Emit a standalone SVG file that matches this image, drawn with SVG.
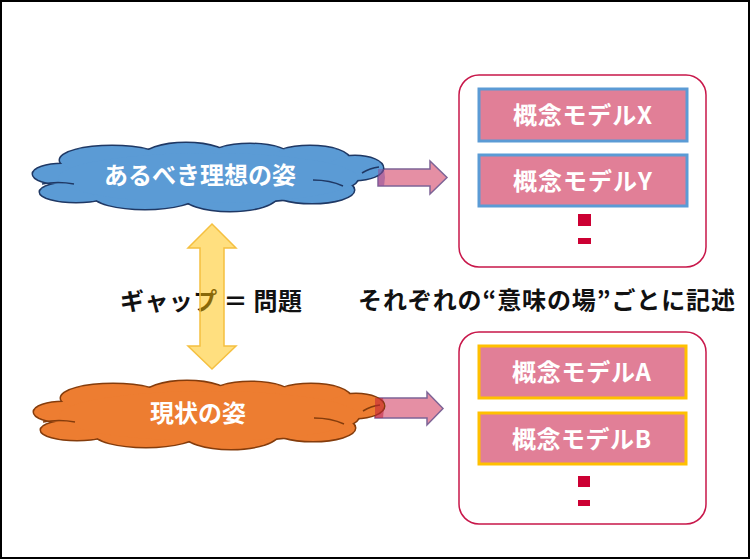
<svg xmlns="http://www.w3.org/2000/svg" xmlns:xlink="http://www.w3.org/1999/xlink" width="751" height="560" viewBox="0 0 751 560">
<style>
.t{font-family:"Noto Sans CJK JP","Noto Sans",sans-serif;font-weight:bold;}
.w{fill:#ffffff;}
.k{fill:#111111;}
.box{fill:#ffffff;stroke:#c8174a;stroke-width:1.5;}
.mb{fill:#e17f97;stroke:#5b9bd5;stroke-width:3;}
.mo{fill:#e17f97;stroke:#ffc000;stroke-width:3;}
.dot{fill:#cc0033;}
.parrow{fill:#e17f97;fill-opacity:0.88;stroke:#7e6496;stroke-width:1.5;}
</style>
<defs>
<g id="cloud">
<ellipse cx="62" cy="174" rx="29" ry="10"/>
<ellipse cx="76" cy="192" rx="36" ry="10"/>
<ellipse cx="112" cy="160" rx="52" ry="14"/>
<ellipse cx="186" cy="158" rx="44" ry="15"/>
<ellipse cx="250" cy="158" rx="42" ry="14"/>
<ellipse cx="310" cy="160" rx="40" ry="14"/>
<ellipse cx="355" cy="168" rx="28" ry="12"/>
<ellipse cx="312" cy="190" rx="42" ry="13"/>
<ellipse cx="230" cy="195" rx="48" ry="16"/>
<ellipse cx="145" cy="195" rx="52" ry="14"/>
<ellipse cx="208" cy="178" rx="150" ry="25"/>
</g>
<path id="cloudIn" fill="none" d="M42,184 Q58,181 74,184 M362,173 Q370,168 379,167 M313,180 Q330,180 343,186"/>
</defs>
<rect x="1" y="1" width="748" height="557" fill="#ffffff" stroke="#000000" stroke-width="2"/>

<g id="connectors">
<polygon class="parrow" points="378,169 430,169 430,161 447,177.5 430,194 430,186 378,186"/>
<polygon class="parrow" points="375,398 427,398 427,392 443,408.5 427,425 427,418 375,418"/>
</g>

<g id="ideal">
<use xlink:href="#cloud" fill="#5b9bd5" stroke="#1f3864" stroke-width="3"/>
<use xlink:href="#cloud" fill="#5b9bd5" stroke="none"/>
<use xlink:href="#cloudIn" stroke="#1f3864" stroke-width="1.5"/>
<text class="t w" x="200" y="184" font-size="24" text-anchor="middle">あるべき理想の姿</text>
</g>

<g id="current">
<use xlink:href="#cloud" transform="translate(1,238)" fill="#ed7d31" stroke="#843c0c" stroke-width="3"/>
<use xlink:href="#cloud" transform="translate(1,238)" fill="#ed7d31" stroke="none"/>
<use xlink:href="#cloudIn" transform="translate(1,238)" stroke="#843c0c" stroke-width="1.5"/>
<text class="t w" x="198" y="422" font-size="24" text-anchor="middle">現状の姿</text>
</g>

<g id="arrow-overlap">
<polygon fill="#8a4f9a" fill-opacity="0.55" points="378,169 384,169 385,177.5 384,186 378,186"/>
<polygon fill="#c0203a" fill-opacity="0.55" points="375,398 383,398 384,408 383,418 375,418"/>
</g>

<g id="gap">
<text class="t k" x="120" y="310" font-size="24" textLength="182" lengthAdjust="spacing">ギャップ ＝ 問題</text>
<polygon fill="#ffc000" fill-opacity="0.5" stroke="#f5c040" stroke-width="1.5" points="212,224 236,248 224,248 224,346 236,346 212,369 188,346 200,346 200,248 188,248"/>
</g>

<g id="note">
<text class="t k" x="358" y="309" font-size="24" textLength="377" lengthAdjust="spacing">それぞれの“意味の場”ごとに記述</text>
</g>

<g id="ideal-models">
<rect class="box" x="459" y="75" width="247" height="192" rx="20" ry="20"/>
<rect class="mb" x="479" y="89" width="208" height="52"/>
<text class="t w" x="513" y="124" font-size="24" textLength="139" lengthAdjust="spacing">概念モデルX</text>
<rect class="mb" x="479" y="155" width="208" height="51"/>
<text class="t w" x="513" y="190" font-size="24" textLength="139" lengthAdjust="spacing">概念モデルY</text>
<rect class="dot" x="578" y="214" width="13" height="12"/>
<rect class="dot" x="578" y="238" width="13" height="6"/>
</g>

<g id="current-models">
<rect class="box" x="459" y="332" width="247" height="192" rx="20" ry="20"/>
<rect class="mo" x="479" y="346" width="207" height="52"/>
<text class="t w" x="512" y="381" font-size="24" textLength="139" lengthAdjust="spacing">概念モデルA</text>
<rect class="mo" x="479" y="413" width="207" height="51"/>
<text class="t w" x="512" y="448" font-size="24" textLength="139" lengthAdjust="spacing">概念モデルB</text>
<rect class="dot" x="578" y="476" width="12" height="11"/>
<rect class="dot" x="578" y="500" width="12" height="6"/>
</g>
</svg>
